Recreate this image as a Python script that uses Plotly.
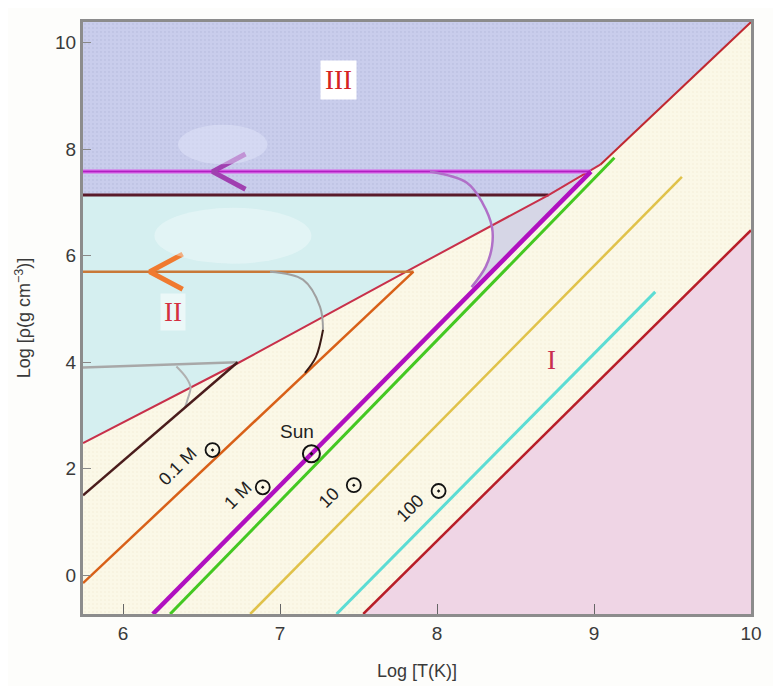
import plotly.graph_objects as go

# ---------------- data ----------------
x_range = [5.745, 10.0]
y_range = [-0.73, 10.39]
x_ticks = [6, 7, 8, 9, 10]
y_ticks = [0, 2, 4, 6, 8, 10]

# degeneracy boundary (ideal gas / degenerate), red
deg_x = [5.745, 6.73, 7.86, 8.71, 9.04]
deg_y = [2.48, 3.98, 5.79, 7.14, 7.71]
# relativistic degeneracy boundary, red
rel_x = [9.04, 10.0]
rel_y = [7.71, 10.39]
# radiation pressure boundary, red
rad_x = [7.53, 10.0]
rad_y = [-0.73, 6.48]

# evolutionary tracks (rho ~ T^3)
sun_x = [6.19, 8.98]
sun_y = [-0.73, 7.58]
sun_h_x = [5.745, 8.98]
sun_h_y = [7.58, 7.58]
sun_curve_x = [7.955, 8.19, 8.29, 8.35, 8.35, 8.31, 8.22]
sun_curve_y = [7.58, 7.37, 6.99, 6.54, 6.17, 5.79, 5.41]

green_x = [6.30, 9.13]
green_y = [-0.73, 7.84]
ten_x = [6.81, 9.56]
ten_y = [-0.73, 7.48]
hundred_x = [7.36, 9.39]
hundred_y = [-0.73, 5.32]

orange_x = [5.745, 7.85]
orange_y = [-0.15, 5.70]
orange_h_x = [5.745, 7.85]
orange_h_y = [5.70, 5.70]
orange_curve_x = [6.936, 7.146, 7.255, 7.274, 7.229, 7.159]
orange_curve_y = [5.70, 5.55, 5.04, 4.61, 4.10, 3.80]

tenth_x = [5.745, 6.73]
tenth_y = [1.50, 4.00]
tenth_h_x = [5.745, 6.73]
tenth_h_y = [3.90, 4.00]
tenth_curve_x = [6.34, 6.40, 6.43, 6.41, 6.395]
tenth_curve_y = [3.92, 3.72, 3.53, 3.29, 3.15]

dark_h_x = [5.745, 8.71]
dark_h_y = [7.14, 7.14]

# shaded wedge between curve, boundary and track
wedge_x = [8.35, 8.35, 8.31, 8.22, 8.25, 9.0, 8.71, 8.34]
wedge_y = [6.54, 6.17, 5.79, 5.41, 5.41, 7.59, 7.14, 6.54]

# labels
label_text = ["0.1 M", "1 M", "10", "100"]
label_x = [6.35, 6.735, 7.31, 7.83]
label_y = [2.05, 1.50, 1.45, 1.26]
sym_x = [6.57, 6.89, 7.47, 8.01]
sym_y = [2.35, 1.65, 1.69, 1.58]
sun_pt_x = [7.20]
sun_pt_y = [2.28]

# arrows (tip positions)
arrow_m = dict(x=6.57, y=7.58)
arrow_o = dict(x=6.17, y=5.70)

fig = go.Figure()

def poly(xs, ys, color, fgcolor=None, solidity=0.12, size=5):
    kw = {}
    if fgcolor:
        kw["fillpattern"] = dict(shape=".", fgcolor=fgcolor, bgcolor=color,
                                 size=size, solidity=solidity)
    fig.add_trace(go.Scatter(x=xs, y=ys, mode="lines", fill="toself",
                             fillcolor=color, line=dict(width=0),
                             hoverinfo="skip", showlegend=False, **kw))

# region I (cream) whole area
poly([x_range[0], x_range[1], x_range[1], x_range[0]],
     [y_range[0], y_range[0], y_range[1], y_range[1]],
     "#fbf8e7", fgcolor="#e8dfc6", solidity=0.12, size=4)
# region III (blue)
poly([x_range[0], rel_x[1], rel_x[0], deg_x[3], dark_h_x[0]],
     [y_range[1], rel_y[1], rel_y[0], deg_y[3], dark_h_y[0]],
     "#c9cdec", fgcolor="#9a9fc2", solidity=0.1, size=4)
# region II (cyan)
poly([dark_h_x[0], deg_x[3], deg_x[2], deg_x[1], deg_x[0]],
     [dark_h_y[0], deg_y[3], deg_y[2], deg_y[1], deg_y[0]],
     "#d5eff0")
# wedge
poly(wedge_x, wedge_y, "#d6d6e6")
# radiation region (pink)
poly([rad_x[0], rad_x[1], x_range[1]], [rad_y[0], rad_y[1], y_range[0]], "#efd5e5")


def line(xs, ys, color, width, shape="linear"):
    fig.add_trace(go.Scatter(x=xs, y=ys, mode="lines",
                             line=dict(color=color, width=width, shape=shape),
                             hoverinfo="skip", showlegend=False))

line(dark_h_x, dark_h_y, "#5a1a2a", 3)
line(deg_x, deg_y, "#c8304a", 2)
line(rel_x, rel_y, "#c02830", 2)
line(rad_x, rad_y, "#b81e28", 2.5)
line(hundred_x, hundred_y, "#5cdcd4", 3)
line(ten_x, ten_y, "#e0c24a", 2.5)
line(green_x, green_y, "#44c822", 3)
line(sun_h_x, sun_h_y, "#d860e8", 4)
line(sun_h_x, sun_h_y, "#b020c0", 1.5)
line(sun_curve_x, sun_curve_y, "#b070c8", 2.5, "spline")
line(sun_x, sun_y, "#b010c0", 4.5)
line(orange_h_x, orange_h_y, "#c87838", 2.5)
line(orange_x, orange_y, "#d86018", 2.5)
line(orange_curve_x[:4], orange_curve_y[:4], "#a0a0a0", 2, "spline")
line(orange_curve_x[3:], orange_curve_y[3:], "#3a1a14", 2, "spline")
line(tenth_h_x, tenth_h_y, "#a8a8a8", 2.5)
line(tenth_curve_x, tenth_curve_y, "#b0b0b0", 2, "spline")
line(tenth_x, tenth_y, "#4a1c1c", 2.5)

# sun symbols
fig.add_trace(go.Scatter(x=sun_pt_x, y=sun_pt_y, mode="markers",
                         marker=dict(symbol="circle-open-dot", size=17, color="#111",
                                     line=dict(width=2, color="#111")),
                         hoverinfo="skip", showlegend=False))
fig.add_trace(go.Scatter(x=sym_x, y=sym_y, mode="markers",
                         marker=dict(symbol="circle-open-dot", size=14, color="#111",
                                     line=dict(width=1.8, color="#111")),
                         hoverinfo="skip", showlegend=False))

font_main = "Liberation Sans, Arial, sans-serif"
for t, x, y in zip(label_text, label_x, label_y):
    fig.add_annotation(x=x, y=y, text=t, showarrow=False, textangle=-45,
                       font=dict(family=font_main, size=18, color="#222"))
fig.add_annotation(x=7.11, y=2.69, text="Sun", showarrow=False,
                   font=dict(family=font_main, size=19, color="#222"))

# region numerals
serif = "Liberation Serif, Times New Roman, serif"
fig.add_annotation(x=7.37, y=9.30, text="III", showarrow=False, bgcolor="#ffffff",
                   borderpad=4, font=dict(family=serif, size=27, color="#d42222"))
fig.add_annotation(x=6.32, y=4.94, text="II", showarrow=False,
                   bgcolor="rgba(240,250,250,0.8)", borderpad=3,
                   font=dict(family=serif, size=27, color="#d43040"))
fig.add_annotation(x=8.73, y=4.04, text="I", showarrow=False,
                   font=dict(family=serif, size=27, color="#c83050"))

# arrows
def arrow(tip, color):
    fig.add_trace(go.Scatter(x=[tip["x"] + 0.21, tip["x"], tip["x"] + 0.21],
                             y=[tip["y"] + 0.33, tip["y"], tip["y"] - 0.33],
                             mode="lines", line=dict(color=color, width=5),
                             hoverinfo="skip", showlegend=False))

arrow(arrow_m, "#a040b0")
arrow(arrow_o, "#f07a30")

# soft clouds
fig.add_shape(type="circle", xref="x", yref="y", x0=6.35, x1=6.92, y0=7.72, y1=8.46,
              fillcolor="rgba(225,230,250,0.5)", line=dict(width=0), layer="above")
fig.add_shape(type="circle", xref="x", yref="y", x0=6.2, x1=7.2, y0=5.85, y1=6.9,
              fillcolor="rgba(245,252,252,0.4)", line=dict(width=0), layer="above")

fig.update_layout(
    width=781, height=686,
    margin=dict(l=75, r=38, t=14, b=80),
    paper_bgcolor="#fdfdfb", plot_bgcolor="#fbf8e7",
    showlegend=False,
    font=dict(family=font_main, color="#444"),
)
fig.update_xaxes(range=x_range, tickvals=x_ticks, ticks="inside", ticklen=10,
                 tickwidth=1, tickcolor="#666", showgrid=False, zeroline=False,
                 showline=True, linecolor="#8c8c8c", linewidth=3, mirror=True,
                 tickfont=dict(size=19, color="#3a3a3a"),
                 title=dict(text="Log [T(K)]", font=dict(size=18, color="#3a3a3a"), standoff=22))
fig.update_yaxes(range=y_range, tickvals=y_ticks, ticks="inside", ticklen=8,
                 tickwidth=1, tickcolor="#888", showgrid=False, zeroline=False,
                 showline=True, linecolor="#8c8c8c", linewidth=3, mirror=True,
                 tickfont=dict(size=19, color="#3a3a3a"),
                 title=dict(text="Log [ρ(g cm<sup>−3</sup>)]", font=dict(size=18, color="#3a3a3a"),
                            standoff=20))

fig.write_html("out.html")
